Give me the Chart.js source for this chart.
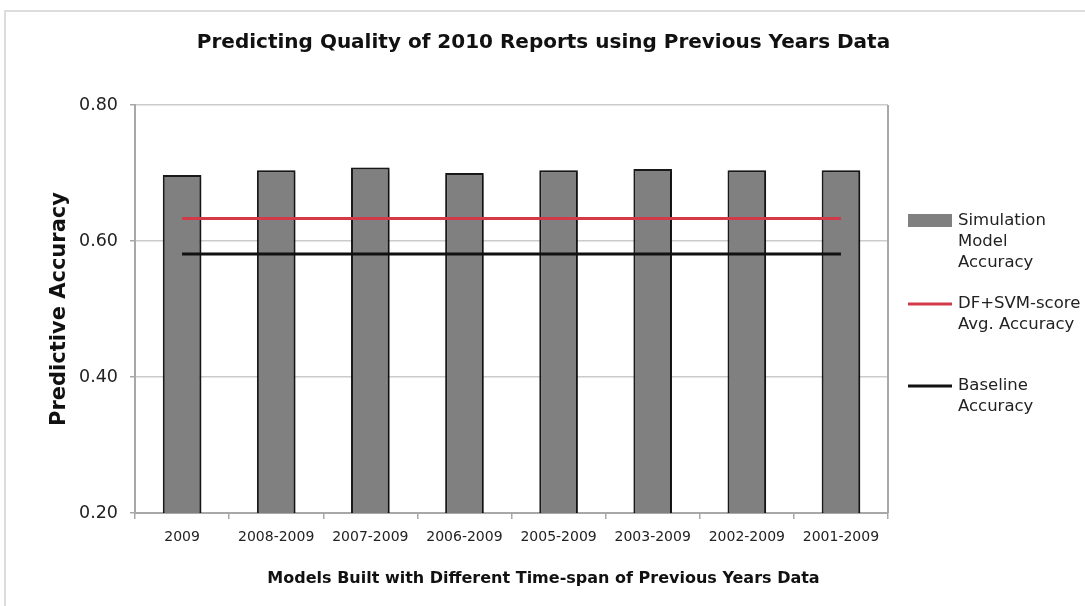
<!DOCTYPE html>
<html>
<head>
<meta charset="utf-8">
<script src="https://cdn.jsdelivr.net/npm/chart.js@4"></script>
<style>
  html, body { margin: 0; padding: 0; background: #fff; }
  #wrap { position: relative; width: 1085px; height: 606px; overflow: hidden; }
  #frame { position: absolute; left: 4px; top: 10px; width: 1100px; height: 620px;
           border: 2px solid #dcdcdc; box-sizing: border-box; pointer-events: none; }
  canvas { position: absolute; left: 0; top: 0; }
</style>
</head>
<body>
<div id="wrap">
  <canvas id="chart" width="1085" height="606"></canvas>
  <div id="frame"></div>
</div>
<script>
// data
const categories = ['2009', '2008-2009', '2007-2009', '2006-2009', '2005-2009', '2003-2009', '2002-2009', '2001-2009']
const simulationAccuracy = [0.697, 0.704, 0.708, 0.700, 0.704, 0.706, 0.704, 0.704]
const dfSvmAccuracy = [0.633, 0.633, 0.633, 0.633, 0.633, 0.633, 0.633, 0.633]
const baselineAccuracy = [0.581, 0.581, 0.581, 0.581, 0.581, 0.581, 0.581, 0.581]
const yTicks = [0.20, 0.40, 0.60, 0.80]

const chartTitle = 'Predicting Quality of 2010 Reports using Previous Years Data'
const xTitle = 'Models Built with Different Time-span of Previous Years Data'
const yTitle = 'Predictive Accuracy'
const legendLines = [
  ['Simulation', 'Model', 'Accuracy'],
  ['DF+SVM-score', 'Avg. Accuracy'],
  ['Baseline', 'Accuracy']
]

const FONT = "'DejaVu Sans', Verdana, sans-serif"
const gridColor = '#cbcbcb'
const axisColor = '#a8a8a8'

// bar shadow
const barShadow = {
  id: 'barShadow',
  beforeDatasetDraw(chart, args) {
    if (args.meta.type !== 'bar') return
    const ctx = chart.ctx
    ctx.save()
    ctx.shadowColor = 'rgba(0,0,0,0.4)'
    ctx.shadowOffsetX = 2
    ctx.shadowOffsetY = 1
    ctx.shadowBlur = 3
  },
  afterDatasetDraw(chart, args) {
    if (args.meta.type !== 'bar') return
    chart.ctx.restore()
  }
}

// title, x title, right border and the legend on the right
const decorations = {
  id: 'decorations',
  afterDraw(chart) {
    const ctx = chart.ctx
    const area = chart.chartArea
    ctx.save()

    ctx.strokeStyle = axisColor
    ctx.lineWidth = 2
    ctx.beginPath()
    ctx.moveTo(area.right, area.top)
    ctx.lineTo(area.right, area.bottom)
    ctx.stroke()

    ctx.fillStyle = '#111'
    ctx.textAlign = 'center'
    ctx.textBaseline = 'middle'
    ctx.font = 'bold 20px ' + FONT
    ctx.fillText(chartTitle, chart.width / 2 + 1, 43)
    ctx.font = 'bold 16px ' + FONT
    ctx.fillText(xTitle, chart.width / 2 + 1, 579)

    // legend
    const x0 = area.right + 20
    const itemTops = [221, 304, 386]
    ctx.textAlign = 'left'
    ctx.font = '16.5px ' + FONT
    chart.data.datasets.forEach((ds, i) => {
      const y = itemTops[i]
      if (ds.type === 'bar') {
        ctx.fillStyle = ds.backgroundColor
        ctx.fillRect(x0, y - 7, 44, 13)
      } else {
        ctx.strokeStyle = ds.borderColor
        ctx.lineWidth = 3
        ctx.beginPath()
        ctx.moveTo(x0, y)
        ctx.lineTo(x0 + 44, y)
        ctx.stroke()
      }
      ctx.fillStyle = '#222'
      legendLines[i].forEach((line, j) => {
        ctx.fillText(line, x0 + 50, y + j * 21)
      })
    })
    ctx.restore()
  }
}

new Chart(document.getElementById('chart'), {
  data: {
    labels: categories,
    datasets: [
      {
        type: 'bar',
        label: 'Simulation Model Accuracy',
        data: simulationAccuracy,
        backgroundColor: '#808080',
        borderColor: '#1a1a1a',
        borderWidth: 2,
        barPercentage: 0.82,
        categoryPercentage: 0.5,
        order: 2
      },
      {
        type: 'line',
        label: 'DF+SVM-score Avg. Accuracy',
        data: dfSvmAccuracy,
        borderColor: '#d23a4a',
        borderWidth: 3,
        pointRadius: 0,
        order: 1
      },
      {
        type: 'line',
        label: 'Baseline Accuracy',
        data: baselineAccuracy,
        borderColor: '#111111',
        borderWidth: 3,
        pointRadius: 0,
        order: 0
      }
    ]
  },
  options: {
    responsive: false,
    animation: false,
    layout: { padding: { top: 105, right: 197, left: 0, bottom: 0 } },
    plugins: {
      legend: { display: false },
      title: { display: false },
      tooltip: { enabled: false }
    },
    scales: {
      x: {
        grid: { drawOnChartArea: false, color: axisColor, lineWidth: 1.5, tickLength: 6 },
        border: { color: axisColor, width: 2 },
        ticks: { color: '#222', font: { family: FONT, size: 14 }, padding: 10, maxRotation: 0, autoSkip: false },
        afterFit: scale => { scale.height = 93 }
      },
      y: {
        min: 0.2,
        max: 0.8,
        afterBuildTicks: scale => { scale.ticks = yTicks.map(v => ({ value: v })) },
        grid: { color: gridColor, lineWidth: 1.5, tickLength: 5, tickColor: axisColor },
        border: { color: axisColor, width: 2 },
        ticks: { color: '#222', font: { family: FONT, size: 17.5 }, padding: 12, callback: v => v.toFixed(2) },
        title: { display: true, text: yTitle, color: '#111', font: { family: FONT, size: 21, weight: 'bold' }, padding: { top: 47, bottom: 0 } },
        afterFit: scale => { scale.width = 135 }
      }
    }
  },
  plugins: [barShadow, decorations]
})
</script>
</body>
</html>
